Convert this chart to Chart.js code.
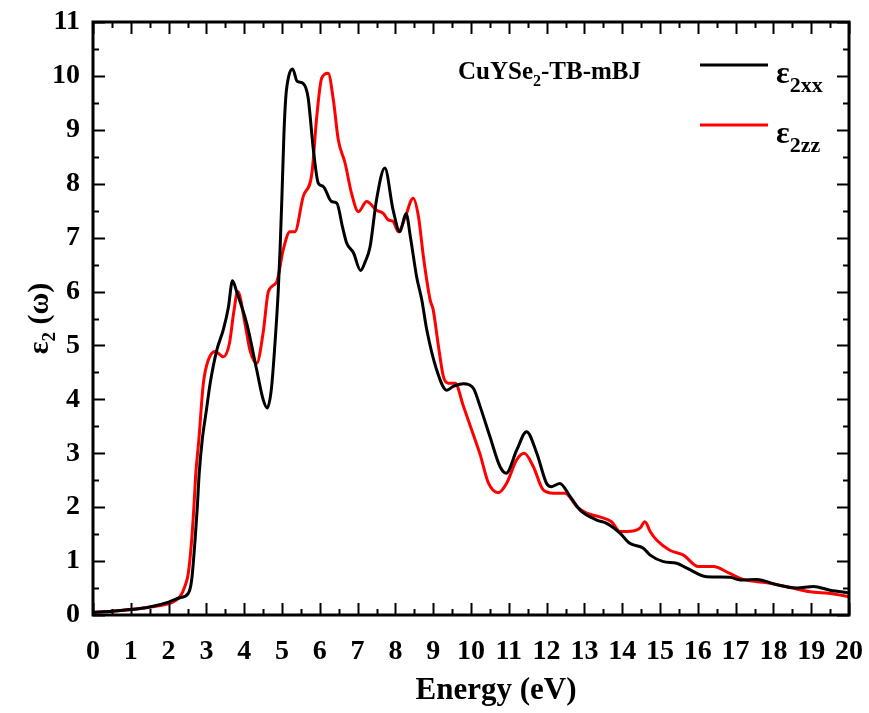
<!DOCTYPE html>
<html lang="en">
<head>
    <meta charset="UTF-8">
    <title>CuYSe2 epsilon2</title>
    <style>
        html, body { margin: 0; background: #fff; overflow: hidden; }
        #wrap { width: 869px; height: 713px; }
        canvas { display: block; }
    </style>
</head>
<body>
    <div id="wrap"><canvas id="chart"></canvas></div>

    <script src="https://cdn.jsdelivr.net/npm/chart.js"></script>
    <script>
    // eps2 xx (black)
    const xxEnergy = [0, 0.5, 1, 1.5, 2, 2.3, 2.52, 2.61, 2.7, 2.76, 2.81, 2.89, 3.0, 3.1, 3.27, 3.45, 3.58, 3.69, 3.8, 4.07, 4.33, 4.5, 4.61, 4.72, 4.82, 4.9, 4.95, 5.0, 5.05, 5.1, 5.18, 5.28, 5.4, 5.56, 5.69, 5.83, 5.96, 6.09, 6.31, 6.45, 6.6, 6.71, 6.89, 7.08, 7.2, 7.33, 7.5, 7.72, 7.94, 8.12, 8.28, 8.4, 8.56, 8.7, 8.83, 9.09, 9.36, 9.53, 9.8, 10.06, 10.24, 10.5, 10.77, 10.93, 11.21, 11.47, 11.74, 12.0, 12.13, 12.35, 12.62, 12.88, 13.33, 13.59, 13.94, 14.2, 14.56, 14.74, 15.09, 15.44, 15.71, 16.23, 16.85, 17.12, 17.56, 18.09, 18.62, 19.06, 19.5, 20];
    const xxValues = [0.05, 0.07, 0.1, 0.15, 0.24, 0.32, 0.4, 0.65, 1.39, 2.01, 2.63, 3.25, 3.8, 4.3, 4.9, 5.3, 5.7, 6.2, 6.0, 5.4, 4.55, 4.0, 3.84, 4.2, 5.1, 6.0, 6.8, 7.8, 8.9, 9.6, 10.0, 10.13, 9.9, 9.86, 9.6, 8.63, 8.01, 7.95, 7.67, 7.64, 7.2, 6.9, 6.72, 6.39, 6.55, 6.83, 7.7, 8.29, 7.51, 7.11, 7.45, 7.0, 6.28, 5.84, 5.29, 4.55, 4.17, 4.24, 4.29, 4.21, 3.87, 3.31, 2.75, 2.63, 3.06, 3.4, 3.0, 2.44, 2.38, 2.44, 2.2, 1.95, 1.76, 1.7, 1.52, 1.33, 1.24, 1.11, 0.99, 0.96, 0.87, 0.71, 0.7, 0.65, 0.66, 0.56, 0.5, 0.53, 0.46, 0.41];

    // eps2 zz (red)
    const zzEnergy = [0, 0.5, 1, 1.51, 2.04, 2.3, 2.43, 2.52, 2.61, 2.67, 2.72, 2.8, 2.92, 3.05, 3.23, 3.45, 3.61, 3.72, 3.83, 4.02, 4.15, 4.33, 4.5, 4.64, 4.86, 5.03, 5.21, 5.34, 5.56, 5.79, 5.92, 6.05, 6.22, 6.36, 6.49, 6.67, 6.84, 7.02, 7.24, 7.5, 7.68, 7.81, 7.94, 8.08, 8.25, 8.47, 8.61, 8.74, 8.83, 8.92, 9.0, 9.14, 9.27, 9.4, 9.58, 9.8, 10.06, 10.24, 10.46, 10.72, 10.94, 11.21, 11.41, 11.65, 11.91, 12.18, 12.49, 12.8, 13.06, 13.41, 13.72, 13.94, 14.29, 14.47, 14.6, 14.74, 14.91, 15.26, 15.62, 16.01, 16.41, 16.85, 17.2, 17.91, 18.44, 18.97, 19.5, 20];
    const zzValues = [0.05, 0.07, 0.1, 0.15, 0.22, 0.34, 0.53, 0.77, 1.39, 2.01, 2.63, 3.25, 4.3, 4.73, 4.89, 4.79, 5.04, 5.6, 6.0, 5.41, 4.92, 4.67, 5.23, 6.0, 6.18, 6.77, 7.11, 7.11, 7.76, 8.19, 9.25, 9.96, 10.05, 9.55, 8.81, 8.38, 7.82, 7.48, 7.67, 7.51, 7.45, 7.33, 7.3, 7.11, 7.36, 7.73, 7.39, 6.65, 6.21, 5.84, 5.66, 4.98, 4.42, 4.3, 4.3, 3.87, 3.35, 2.98, 2.45, 2.27, 2.44, 2.88, 3.0, 2.75, 2.32, 2.26, 2.26, 2.01, 1.89, 1.82, 1.73, 1.55, 1.56, 1.61, 1.73, 1.55, 1.39, 1.2, 1.11, 0.9, 0.9, 0.77, 0.66, 0.59, 0.51, 0.43, 0.4, 0.34];

    const xTicks = [0, 20, 1];   // min, max, step
    const yTicks = [0, 11, 1];

    const FONT = '"Liberation Serif", "Times New Roman", serif';

    function toPoints(xs, ys) {
        return xs.map((x, i) => ({ x: x, y: ys[i] }));
    }

    // frame, inward ticks, titles and legend with subscripts
    const decor = {
        id: 'decor',
        afterDraw(chart) {
            const ctx = chart.ctx;
            const a = chart.chartArea;
            const xs = chart.scales.x, ys = chart.scales.y;
            ctx.save();
            ctx.strokeStyle = '#000';
            ctx.lineWidth = 2;
            ctx.beginPath();
            for (let v = xTicks[0]; v <= xTicks[1] + 1e-9; v += 0.5) {
                const px = Math.round(xs.getPixelForValue(v)) + 0.5;
                const len = (v % 1 === 0) ? 12 : 6;
                ctx.moveTo(px, a.bottom); ctx.lineTo(px, a.bottom - len);
                ctx.moveTo(px, a.top); ctx.lineTo(px, a.top + len);
            }
            for (let v = yTicks[0]; v <= yTicks[1] + 1e-9; v += 0.5) {
                const py = Math.round(ys.getPixelForValue(v)) + 0.5;
                const len = (v % 1 === 0) ? 12 : 6;
                ctx.moveTo(a.left, py); ctx.lineTo(a.left + len, py);
                ctx.moveTo(a.right, py); ctx.lineTo(a.right - len, py);
            }
            ctx.stroke();
            ctx.lineWidth = 3;
            ctx.strokeRect(a.left, a.top, a.right - a.left, a.bottom - a.top);

            ctx.fillStyle = '#000';
            ctx.textBaseline = 'alphabetic';
            ctx.textAlign = 'left';

            // material label
            let x = 458;
            ctx.font = 'bold 25px ' + FONT;
            ctx.fillText('CuYSe', x, 79);
            x += ctx.measureText('CuYSe').width;
            ctx.font = 'bold 16px ' + FONT;
            ctx.fillText('2', x, 86);
            x += ctx.measureText('2').width;
            ctx.font = 'bold 25px ' + FONT;
            ctx.fillText('-TB-mBJ', x, 79);

            // legend
            const items = [['#000', 'xx', 65], ['#ff0000', 'zz', 125]];
            items.forEach(it => {
                ctx.strokeStyle = it[0];
                ctx.lineWidth = 3;
                ctx.beginPath();
                ctx.moveTo(700, it[2]); ctx.lineTo(768, it[2]);
                ctx.stroke();
                ctx.font = 'bold 32px ' + FONT;
                ctx.fillText('\u03b5', 776, it[2] + 18);
                const w = ctx.measureText('\u03b5').width;
                ctx.font = 'bold 22px ' + FONT;
                ctx.fillText('2' + it[1], 776 + w, it[2] + 27);
            });

            // x title (sits a little right of centre in the original)
            ctx.font = 'bold 31px ' + FONT;
            ctx.textAlign = 'center';
            ctx.fillText('Energy (eV)', 496, 699);
            ctx.textAlign = 'left';

            // y title
            ctx.translate(38, (a.top + a.bottom) / 2);
            ctx.rotate(-Math.PI / 2);
            const p1 = '\u03b5', p3 = ' (\u03c9)';
            ctx.font = 'bold 30px ' + FONT;
            const w1 = ctx.measureText(p1).width;
            const w3 = ctx.measureText(p3).width;
            ctx.font = 'bold 19px ' + FONT;
            const w2 = ctx.measureText('2').width;
            let sx = -(w1 + w2 + w3) / 2;
            ctx.font = 'bold 30px ' + FONT;
            ctx.fillText(p1, sx, 10);
            ctx.font = 'bold 19px ' + FONT;
            ctx.fillText('2', sx + w1, 17);
            ctx.font = 'bold 30px ' + FONT;
            ctx.fillText(p3, sx + w1 + w2, 10);
            ctx.restore();
        }
    };

    new Chart(document.getElementById('chart'), {
        type: 'line',
        data: {
            datasets: [{
                label: 'eps2xx',
                data: toPoints(xxEnergy, xxValues),
                borderColor: '#000',
                borderWidth: 3,
                pointRadius: 0,
                cubicInterpolationMode: 'monotone'
            }, {
                label: 'eps2zz',
                data: toPoints(zzEnergy, zzValues),
                borderColor: '#ff0000',
                borderWidth: 3,
                pointRadius: 0,
                cubicInterpolationMode: 'monotone'
            }]
        },
        options: {
            responsive: true,
            maintainAspectRatio: false,
            animation: false,
            layout: { padding: { left: 0, top: 22, right: 20, bottom: 0 } },
            plugins: { legend: { display: false }, tooltip: { enabled: false } },
            scales: {
                x: {
                    type: 'linear',
                    min: xTicks[0], max: xTicks[1],
                    grid: { display: false, drawTicks: false },
                    border: { display: false },
                    ticks: {
                        stepSize: xTicks[2], autoSkip: false, maxRotation: 0,
                        color: '#000', padding: 20,
                        font: { family: FONT, size: 28, weight: 'bold' }
                    },
                    afterFit(scale) {
                        scale.height = 98;
                        scale.paddingLeft = 0;
                        scale.paddingRight = 0;
                    }
                },
                y: {
                    min: yTicks[0], max: yTicks[1],
                    grid: { display: false, drawTicks: false },
                    border: { display: false },
                    ticks: {
                        stepSize: yTicks[2], autoSkip: false,
                        color: '#000', padding: 13,
                        font: { family: FONT, size: 28, weight: 'bold' }
                    },
                    afterFit(scale) {
                        scale.width = 93;
                        scale.paddingTop = 0;
                        scale.paddingBottom = 0;
                    }
                }
            }
        },
        plugins: [decor]
    });
    </script>
</body>
</html>
